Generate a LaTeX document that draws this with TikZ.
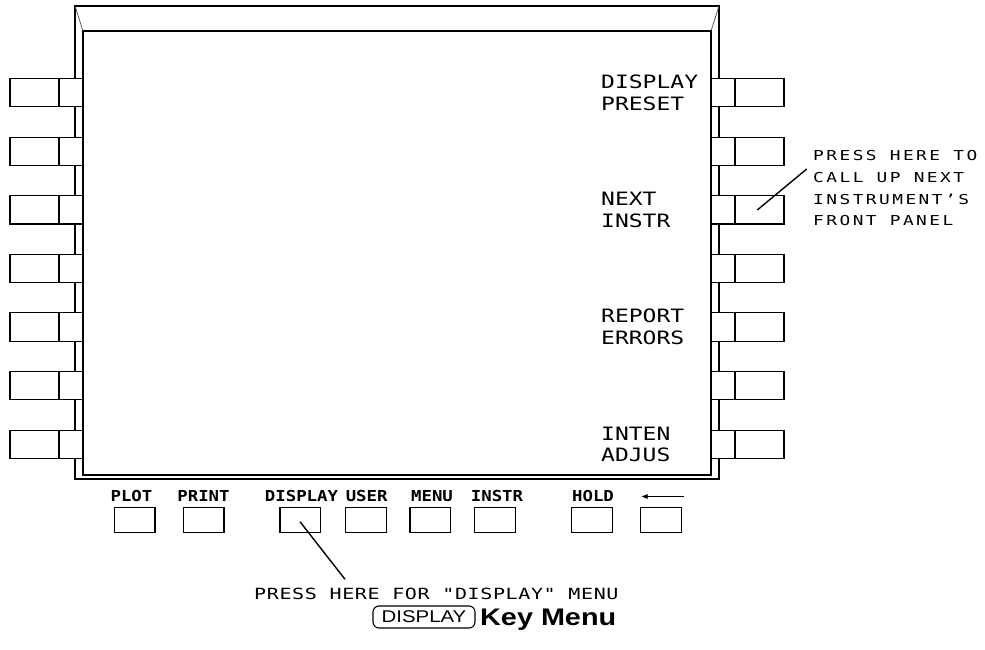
\documentclass[tikz,border=0pt]{standalone}
\usepackage{fontspec}
\setmainfont{Liberation Sans}
\newfontfamily\lblfont[FakeStretch=1.25]{DejaVu Sans Mono}
\newfontfamily\keyfont[FakeStretch=1.15]{DejaVu Sans Mono}
\newfontfamily\annfontA[FakeStretch=1.3,LetterSpace=18]{DejaVu Sans Mono}
\newfontfamily\annfontB[FakeStretch=1.3,LetterSpace=4]{DejaVu Sans Mono}
\newfontfamily\capfont[FakeStretch=1.2]{Liberation Sans}
\newfontfamily\capbold[FakeStretch=1.2]{Liberation Sans Bold}
\usetikzlibrary{arrows.meta}
\begin{document}
\begin{tikzpicture}[x=1pt,y=-1pt,
  frame/.style={line width=1.1pt, black},
  bevel/.style={line width=0.7pt, black!70},
  sidekey/.style={draw, line width=1.1pt, fill=white, minimum width=73pt, minimum height=28.3pt, inner sep=0pt, outer sep=0pt, anchor=north west},
  botkey/.style={draw, line width=1.1pt, fill=white, minimum width=40.7pt, minimum height=25pt, inner sep=0pt, outer sep=0pt, anchor=north west},
  rlabel/.style={anchor=base west, inner sep=0pt, font=\lblfont\fontsize{18.4}{20}\selectfont},
  klabel/.style={anchor=base, inner sep=0pt, font=\keyfont\bfseries\fontsize{15.1}{16}\selectfont},
  annA/.style={anchor=base west, inner sep=0pt, font=\annfontA\fontsize{13.7}{15}\selectfont},
  annB/.style={anchor=base west, inner sep=0pt, font=\annfontB\fontsize{15.4}{16}\selectfont},
  leader/.style={line width=1.4pt, black}]
\useasboundingbox (0,0) rectangle (985,650);
% screen frame
\coordinate (OTL) at (75,6);
\coordinate (OTR) at (719,6);
\coordinate (OBR) at (719,479);
\coordinate (ITL) at (83,31);
\coordinate (ITR) at (711,31);
\coordinate (IBR) at (711,475);
\draw[frame] (OTL) rectangle (OBR);
\draw[frame] (ITL) rectangle (IBR);
\draw[bevel] (OTL) -- (ITL);
\draw[bevel] (OTR) -- (ITR);
% side keys
\foreach \i in {0,...,6}{
  \pgfmathsetmacro{\t}{78.5+58.6*\i}
  \node[sidekey] (L\i) at (10,\t) {};
  \draw[line width=1.1pt] ([xshift=49pt]L\i.north west) -- ([xshift=49pt]L\i.south west);
  \node[sidekey] (R\i) at (711,\t) {};
  \draw[line width=1.1pt] ([xshift=24pt]R\i.north west) -- ([xshift=24pt]R\i.south west);
}
% softkey labels
\node[rlabel] (t1a) at (601,88.5) {DISPLAY};
\node[rlabel] (t1b) at (601,110.2) {PRESET};
\node[rlabel] (t3a) at (601,205.7) {NEXT};
\node[rlabel] (t3b) at (601,227.4) {INSTR};
\node[rlabel] (t5a) at (601,322.9) {REPORT};
\node[rlabel] (t5b) at (601,344.6) {ERRORS};
\node[rlabel] (t7a) at (601,440.1) {INTEN};
\node[rlabel] (t7b) at (601,461.8) {ADJUS};
% bottom keys
\node[botkey] (kPlot) at (114.3,507.3) {};
\node[botkey] (kPrint) at (183.3,507.3) {};
\node[botkey] (kDisp) at (280,507.3) {};
\node[botkey] (kUser) at (345.7,507.3) {};
\node[botkey] (kMenu) at (410,507.3) {};
\node[botkey] (kInstr) at (474.7,507.3) {};
\node[botkey] (kHold) at (571.7,507.3) {};
\node[botkey] (kBack) at (640.7,507.3) {};
\node[klabel] (lPlot) at (131.5,501.7) {PLOT};
\node[klabel] (lPrint) at (203.5,501.7) {PRINT};
\node[klabel] (lDisp) at (301.5,501.7) {DISPLAY};
\node[klabel] (lUser) at (366.7,501.7) {USER};
\node[klabel] (lMenu) at (432,501.7) {MENU};
\node[klabel] (lInstr) at (497,501.7) {INSTR};
\node[klabel] (lHold) at (593,501.7) {HOLD};
\coordinate (arE) at (684,496.5);
\coordinate (arW) at (641.7,496.5);
\draw[line width=1.3pt, -{Triangle[length=6pt,width=4.5pt]}] (arE) -- (arW);
% annotations
\node[annA] (a1) at (813,160.7) {PRESS HERE TO};
\node[annA] (a2) at (813,182.3) {CALL UP NEXT};
\node[annA] (a3) at (813,204) {INSTRUMENT’S};
\node[annA] (a4) at (813,225.7) {FRONT PANEL};
\coordinate (ldA) at (757.3,210);
\coordinate (ldB) at (806.7,169);
\draw[leader] (ldA) -- (ldB);
\node[annB] (b1) at (254,599) {PRESS HERE FOR "DISPLAY" MENU};
\coordinate (ldC) at (300,521.7);
\coordinate (ldD) at (345,579.3);
\draw[leader] (ldC) -- (ldD);
% caption
\node[draw, line width=1.1pt, rounded corners=6pt, minimum width=102pt, minimum height=22pt, inner sep=0pt] (capkey) at (424,617) {\capfont\fontsize{17}{17}\selectfont DISPLAY};
\node[anchor=base west, inner sep=0pt] (captxt) at (480,625) {\capbold\fontsize{24}{25}\selectfont Key Menu};
\end{tikzpicture}
\end{document}
